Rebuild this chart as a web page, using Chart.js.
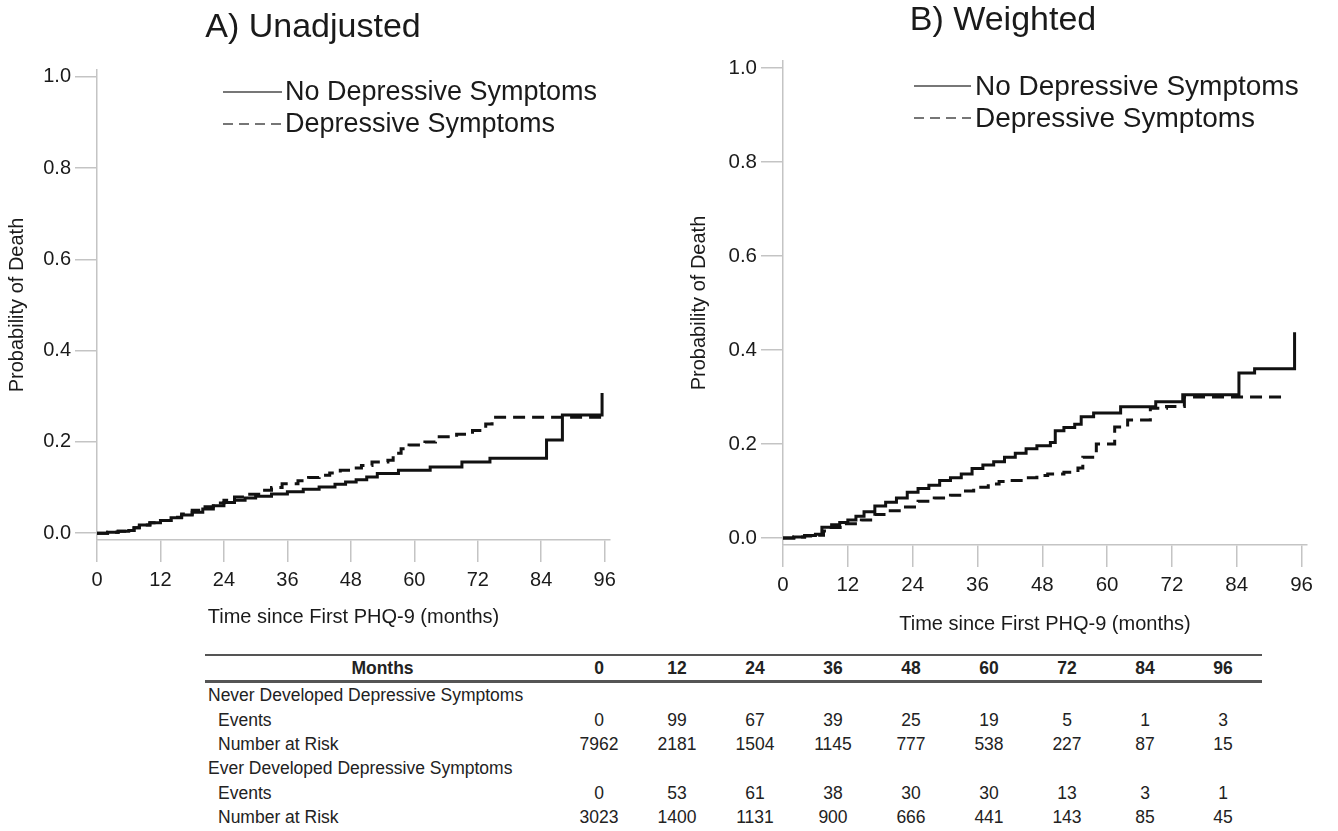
<!DOCTYPE html>
<html>
<head>
<meta charset="utf-8">
<script src="https://cdn.jsdelivr.net/npm/chart.js@4.4.0/dist/chart.umd.min.js"></script>
<style>
  body { margin: 0; background: #fff; width: 1338px; height: 831px; position: relative; overflow: hidden;
         font-family: 'Liberation Sans', Arial, sans-serif; color: #222; }
  canvas.panel { position: absolute; top: 0; }
  #riskTable { position: absolute; left: 205px; top: 654px; border-collapse: collapse; table-layout: fixed;
               font-size: 17.5px; color: #222; }
  #riskTable td, #riskTable th { padding: 0; white-space: nowrap; height: 24.4px; line-height: 24px; }
  #riskTable th { font-weight: bold; border-top: 2px solid #555; border-bottom: 3px solid #555; height: 24px; line-height: 24px; }
  #riskTable td.num, #riskTable th.num { text-align: center; }
  #riskTable td.grp { padding-left: 3px; }
  #riskTable td.sub { padding-left: 13px; }
</style>
</head>
<body>
<canvas id="chartA" class="panel" width="669" height="640" style="left:0"></canvas>
<canvas id="chartB" class="panel" width="669" height="640" style="left:669px"></canvas>
<table id="riskTable"></table>

<script>
// axis ticks
const monthTicks = [0, 12, 24, 36, 48, 60, 72, 84, 96];
const probTicks = [0, 0.2, 0.4, 0.6, 0.8, 1.0];
const seriesNames = ['No Depressive Symptoms', 'Depressive Symptoms'];

// A) unadjusted KM curves (months, cumulative probability of death)
const unadjNoTime = [0, 2, 4, 6, 7, 8, 10, 12, 14, 16, 18, 20, 22, 24, 26, 28, 30, 33, 36, 39, 42, 45, 47, 49, 51, 53, 57, 63, 69, 74.3, 85, 88, 95.5];
const unadjNoProb = [0, 0.002, 0.004, 0.006, 0.012, 0.018, 0.023, 0.028, 0.034, 0.04, 0.046, 0.053, 0.06, 0.067, 0.072, 0.077, 0.081, 0.086, 0.091, 0.096, 0.101, 0.107, 0.112, 0.117, 0.123, 0.131, 0.138, 0.145, 0.156, 0.164, 0.204, 0.259, 0.307];
const unadjDepTime = [0, 2, 4, 6, 7, 8, 10, 12, 14, 16, 18, 20, 22, 24, 26, 28, 31, 33, 35, 38, 40, 42, 44, 46, 48, 50, 52, 55, 56, 57.5, 59, 62, 64, 68, 71, 73.5, 74.7, 95.5];
const unadjDepProb = [0, 0.002, 0.004, 0.006, 0.012, 0.018, 0.023, 0.028, 0.035, 0.042, 0.05, 0.058, 0.066, 0.072, 0.079, 0.085, 0.094, 0.1, 0.108, 0.115, 0.122, 0.127, 0.132, 0.138, 0.143, 0.148, 0.156, 0.16, 0.175, 0.185, 0.193, 0.2, 0.211, 0.217, 0.225, 0.239, 0.254, 0.254];

// B) weighted KM curves
const wtNoTime = [0, 2, 4, 6, 7.2, 9, 10.5, 12, 13.5, 15, 17, 19, 21, 23, 25, 27, 29, 31, 33, 35, 37, 39, 41, 43, 45, 47, 49.5, 50.4, 52, 54, 55.2, 57.5, 62.5, 69, 74, 84.4, 87.3, 94.7];
const wtNoProb = [0, 0.002, 0.005, 0.008, 0.023, 0.028, 0.033, 0.038, 0.046, 0.056, 0.068, 0.076, 0.085, 0.097, 0.105, 0.112, 0.122, 0.128, 0.136, 0.148, 0.155, 0.162, 0.172, 0.18, 0.19, 0.196, 0.203, 0.228, 0.235, 0.242, 0.258, 0.266, 0.279, 0.29, 0.305, 0.351, 0.36, 0.438];
const wtDepTime = [0, 2, 4, 6, 7.5, 8.5, 11, 14.5, 17, 19, 22, 25, 28, 31, 33.5, 35.3, 38, 40, 42, 44.5, 47, 49, 52, 54.6, 55.5, 58, 61.4, 63.8, 68, 71, 74.3, 93.3];
const wtDepProb = [0, 0.002, 0.004, 0.006, 0.015, 0.022, 0.03, 0.038, 0.05, 0.058, 0.066, 0.078, 0.085, 0.091, 0.1, 0.108, 0.115, 0.12, 0.122, 0.128, 0.133, 0.136, 0.14, 0.149, 0.172, 0.2, 0.236, 0.251, 0.276, 0.28, 0.3, 0.3];

// number-at-risk table
const neverEvents = [0, 99, 67, 39, 25, 19, 5, 1, 3];
const neverAtRisk = [7962, 2181, 1504, 1145, 777, 538, 227, 87, 15];
const everEvents = [0, 53, 61, 38, 30, 30, 13, 3, 1];
const everAtRisk = [3023, 1400, 1131, 900, 666, 441, 143, 85, 45];

const FONT = "'Liberation Sans', Arial, sans-serif";
const AXIS_GREY = '#c4c4c4';

const toPoints = (t, p) => t.map((x, i) => ({ x: x, y: p[i] }));

// titles + inline legend drawn on the canvas
const kmDecor = {
  id: 'kmDecor',
  afterDraw(chart, args, o) {
    const ctx = chart.ctx;
    ctx.save();
    ctx.fillStyle = '#1a1a1a';
    ctx.textAlign = 'center';
    ctx.textBaseline = 'alphabetic';
    ctx.font = o.titleSize + 'px ' + FONT;
    ctx.fillText(o.title, o.titleX, o.titleY);

    ctx.textAlign = 'left';
    ctx.textBaseline = 'middle';
    ctx.font = o.legendSize + 'px ' + FONT;
    chart.data.datasets.forEach((ds, i) => {
      const y = o.legendY + i * o.legendGap;
      ctx.beginPath();
      ctx.strokeStyle = '#4a4a4a';
      ctx.lineWidth = 1.6;
      ctx.setLineDash(ds.borderDash && ds.borderDash.length ? [10, 6] : []);
      ctx.moveTo(o.lineX0, y);
      ctx.lineTo(o.lineX1, y);
      ctx.stroke();
      ctx.setLineDash([]);
      ctx.fillText(ds.label, o.textX, y + 1);
    });
    ctx.restore();
  }
};

function makeKM(id, s) {
  const fixTicks = vals => scale => { scale.ticks = vals.map(v => ({ value: v })); };
  return new Chart(document.getElementById(id), {
    type: 'line',
    data: {
      datasets: [
        {
          label: seriesNames[0],
          data: toPoints(s.noTime, s.noProb),
          borderColor: '#111',
          borderWidth: 3,
          stepped: true,
          pointRadius: 0,
          borderDash: [],
        },
        {
          label: seriesNames[1],
          data: toPoints(s.depTime, s.depProb),
          borderColor: '#111',
          borderWidth: 3,
          stepped: true,
          pointRadius: 0,
          borderDash: [12, 7],
        },
      ],
    },
    options: {
      responsive: false,
      animation: false,
      events: [],
      layout: { padding: { left: 0, top: s.top, right: s.right, bottom: 0 } },
      plugins: {
        legend: { display: false },
        tooltip: { enabled: false },
        kmDecor: s.decor,
      },
      scales: {
        x: {
          type: 'linear',
          min: 0,
          max: 97,
          afterBuildTicks: fixTicks(monthTicks),
          afterFit: sc => { sc.height = s.xHeight; },
          border: { display: true, color: AXIS_GREY, width: 1.5 },
          grid: { display: true, drawOnChartArea: false, drawTicks: true, tickLength: 22, color: AXIS_GREY, lineWidth: 1.5 },
          ticks: { color: '#1a1a1a', font: { family: FONT, size: s.tickSize }, padding: 6, maxRotation: 0 },
          title: { display: true, text: 'Time since First PHQ-9 (months)', color: '#1a1a1a',
                   font: { family: FONT, size: 20 }, padding: { top: 0, bottom: s.xTitlePad } },
        },
        y: {
          type: 'linear',
          min: -0.015,
          max: 1.015,
          afterBuildTicks: fixTicks(probTicks),
          afterFit: sc => { sc.width = s.yWidth; },
          border: { display: true, color: AXIS_GREY, width: 1.5 },
          grid: { display: true, drawOnChartArea: false, drawTicks: true, tickLength: 22, color: AXIS_GREY, lineWidth: 1.5 },
          ticks: { color: '#1a1a1a', font: { family: FONT, size: s.tickSize }, padding: 4,
                   callback: v => v.toFixed(1) },
          title: { display: true, text: 'Probability of Death', color: '#1a1a1a',
                   font: { family: FONT, size: 20 }, padding: { top: s.yTitlePad, bottom: 0 } },
        },
      },
    },
    plugins: [kmDecor],
  });
}

makeKM('chartA', {
  noTime: unadjNoTime, noProb: unadjNoProb, depTime: unadjDepTime, depProb: unadjDepProb,
  top: 70, right: 59, xHeight: 100, yWidth: 97, tickSize: 20, xTitlePad: 11, yTitlePad: 5,
  decor: { title: 'A) Unadjusted', titleSize: 34, titleX: 313, titleY: 37,
           legendSize: 27, legendY: 92, legendGap: 32, lineX0: 223, lineX1: 282, textX: 285 },
});

makeKM('chartB', {
  noTime: wtNoTime, noProb: wtNoProb, depTime: wtDepTime, depProb: wtDepProb,
  top: 61, right: 31, xHeight: 95, yWidth: 114, tickSize: 20.5, xTitlePad: 4, yTitlePad: 18,
  decor: { title: 'B) Weighted', titleSize: 34, titleX: 334, titleY: 30,
           legendSize: 28, legendY: 86, legendGap: 32, lineX0: 245, lineX1: 302, textX: 306 },
});

// risk table
(function buildTable() {
  const tbl = document.getElementById('riskTable');
  const cg = document.createElement('colgroup');
  cg.innerHTML = '<col style="width:355px">' + monthTicks.map(() => '<col style="width:78px">').join('');
  tbl.appendChild(cg);
  const head = document.createElement('tr');
  head.innerHTML = '<th>Months</th>' + monthTicks.map(m => '<th class="num">' + m + '</th>').join('');
  tbl.appendChild(head);
  const rows = [
    ['grp', 'Never Developed Depressive Symptoms', null],
    ['sub', 'Events', neverEvents],
    ['sub', 'Number at Risk', neverAtRisk],
    ['grp', 'Ever Developed Depressive Symptoms', null],
    ['sub', 'Events', everEvents],
    ['sub', 'Number at Risk', everAtRisk],
  ];
  rows.forEach(r => {
    const tr = document.createElement('tr');
    tr.innerHTML = '<td class="' + r[0] + '">' + r[1] + '</td>' +
      monthTicks.map((m, j) => '<td class="num">' + (r[2] ? r[2][j] : '') + '</td>').join('');
    tbl.appendChild(tr);
  });
})();
</script>
</body>
</html>
